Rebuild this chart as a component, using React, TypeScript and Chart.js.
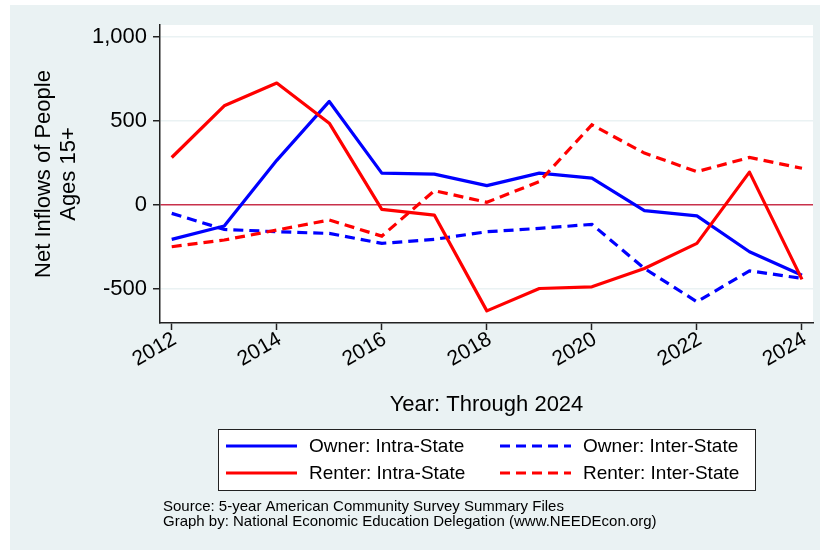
import React, { useEffect, useRef } from "react";
import { Chart, registerables } from "chart.js";

Chart.register(...registerables);

const years = [2012, 2013, 2014, 2015, 2016, 2017, 2018, 2019, 2020, 2021, 2022, 2023, 2024];
const ownerIntra = [-204, -125, 265, 615, 189, 183, 115, 189, 159, -34, -65, -278, -417];
const ownerInter = [-50, -145, -159, -169, -228, -204, -159, -139, -115, -377, -575, -391, -436];
const renterIntra = [282, 589, 724, 486, -26, -60, -629, -496, -486, -377, -228, 195, -442];
const renterInter = [-248, -208, -149, -89, -185, 85, 16, 139, 476, 308, 198, 282, 218];

const seriesLabels = ["Owner: Intra-State", "Owner: Inter-State", "Renter: Intra-State", "Renter: Inter-State"];
const yTickValues = [-500, 0, 500, 1000];
const xTickValues = [2012, 2014, 2016, 2018, 2020, 2022, 2024];
const yTitle = ["Net Inflows of People", "Ages 15+"];
const xTitle = "Year: Through 2024";
const sourceLines = [
  "Source: 5-year American Community Survey Summary Files",
  "Graph by: National Economic Education Delegation (www.NEEDEcon.org)",
];

const FONT = '"Liberation Sans", Arial, Helvetica, sans-serif';
const BG = "#eaf2f3";
const BLUE = "#0000ff";
const RED = "#ff0000";
const AXIS = "#222222";
const ZERO = "#c8314b";
const DASH = [10, 6];

const toPoints = (arr: number[]) => years.map((x, i) => ({ x, y: arr[i] }));

const bgPlugin = {
  id: "bgPlugin",
  beforeDraw(chart: any) {
    const { ctx, chartArea: a, width, height } = chart;
    ctx.save();
    ctx.fillStyle = "#ffffff";
    ctx.fillRect(0, 0, width, height);
    ctx.fillStyle = BG;
    ctx.fillRect(10, 5, width - 10, height - 5);
    ctx.fillStyle = "#ffffff";
    ctx.fillRect(a.left, a.top, a.right - a.left, a.bottom - a.top);
    ctx.restore();
  },
};

const legendPlugin = {
  id: "legendPlugin",
  afterDraw(chart: any) {
    const { ctx } = chart;
    ctx.save();
    const bx = 218, by = 429, bw = 537, bh = 61;
    ctx.fillStyle = "#ffffff";
    ctx.fillRect(bx, by, bw, bh);
    ctx.strokeStyle = AXIS;
    ctx.lineWidth = 1;
    ctx.strokeRect(bx + 0.5, by + 0.5, bw, bh);
    const cols = [226, 500];
    const rows = [446, 473];
    const ds = chart.data.datasets;
    ds.forEach((d: any, i: number) => {
      const col = i % 2;
      const row = Math.floor(i / 2);
      const x0 = cols[col];
      const y = rows[row];
      ctx.beginPath();
      ctx.strokeStyle = d.borderColor;
      ctx.lineWidth = 3.2;
      ctx.lineCap = "butt";
      ctx.setLineDash(d.borderDash || []);
      ctx.moveTo(x0, y);
      ctx.lineTo(x0 + 71, y);
      ctx.stroke();
      ctx.setLineDash([]);
      ctx.fillStyle = "#000";
      ctx.font = `19px ${FONT}`;
      ctx.textBaseline = "middle";
      ctx.textAlign = "left";
      ctx.fillText(d.label, x0 + 83, y + 1);
    });
    ctx.font = `15px ${FONT}`;
    ctx.fillStyle = "#000";
    ctx.textBaseline = "middle";
    ctx.fillText(sourceLines[0], 163, 507);
    ctx.fillText(sourceLines[1], 163, 522);
    ctx.restore();
  },
};

export default function App() {
  const ref = useRef<HTMLCanvasElement | null>(null);
  useEffect(() => {
    document.body.style.margin = "0";
    if (!ref.current) return;
    const chart = new Chart(ref.current, {
      type: "line",
      data: {
        datasets: [
          { label: seriesLabels[0], data: toPoints(ownerIntra), borderColor: BLUE, backgroundColor: BLUE, borderWidth: 3.2, pointRadius: 0, tension: 0, borderJoinStyle: "round" as any, order: 4 },
          { label: seriesLabels[1], data: toPoints(ownerInter), borderColor: BLUE, backgroundColor: BLUE, borderWidth: 3.2, borderDash: DASH, pointRadius: 0, tension: 0, order: 3 },
          { label: seriesLabels[2], data: toPoints(renterIntra), borderColor: RED, backgroundColor: RED, borderWidth: 3.2, pointRadius: 0, tension: 0, borderJoinStyle: "round" as any, order: 2 },
          { label: seriesLabels[3], data: toPoints(renterInter), borderColor: RED, backgroundColor: RED, borderWidth: 3.2, borderDash: DASH, pointRadius: 0, tension: 0, order: 1 },
        ],
      },
      options: {
        animation: false,
        responsive: false,
        devicePixelRatio: 1,
        layout: { padding: { left: 0, top: 25, right: 7, bottom: 127 } },
        plugins: { legend: { display: false }, tooltip: { enabled: false }, title: { display: false } },
        scales: {
          x: {
            type: "linear",
            min: 2011.777,
            max: 2024.21,
            afterBuildTicks: (s: any) => { s.ticks = xTickValues.map((v) => ({ value: v })); },
            afterFit: (s: any) => { s.height = 100; s.paddingLeft = 0; s.paddingRight = 0; },
            ticks: {
              autoSkip: false,
              minRotation: 30,
              maxRotation: 30,
              padding: -3,
              labelOffset: 3,
              color: "#000",
              font: { family: FONT, size: 21 },
              callback: (v: any) => String(v),
            },
            grid: { drawOnChartArea: false, drawTicks: true, tickLength: 7, tickColor: AXIS, tickWidth: 1.5 },
            border: { display: true, color: AXIS, width: 1.5 },
            title: { display: true, text: xTitle, color: "#000", font: { family: FONT, size: 22 }, padding: { top: 0, bottom: 5 } },
          },
          y: {
            type: "linear",
            min: -701,
            max: 1069,
            afterBuildTicks: (s: any) => { s.ticks = yTickValues.map((v) => ({ value: v })); },
            afterFit: (s: any) => { s.width = 160; },
            ticks: {
              padding: 6,
              color: "#000",
              font: { family: FONT, size: 22 },
              callback: (v: any) => Number(v).toLocaleString("en-US"),
            },
            grid: {
              drawOnChartArea: true,
              drawTicks: true,
              tickLength: 7,
              tickColor: AXIS,
              tickWidth: 1.5,
              color: (c: any) => (c.tick && c.tick.value === 0 ? ZERO : BG),
              lineWidth: 1.5,
            },
            border: { display: true, color: AXIS, width: 1.5 },
            title: { display: true, text: yTitle, color: "#000", font: { family: FONT, size: 22, lineHeight: 1.14 }, padding: { top: 31, bottom: 0 } },
          },
        },
      },
      plugins: [bgPlugin, legendPlugin],
    });
    return () => chart.destroy();
  }, []);
  return (
    <div style={{ position: "absolute", left: 0, top: 0, width: 820, height: 550 }}>
      <canvas ref={ref} width={820} height={550} style={{ width: 820, height: 550, display: "block" }} />
    </div>
  );
}
